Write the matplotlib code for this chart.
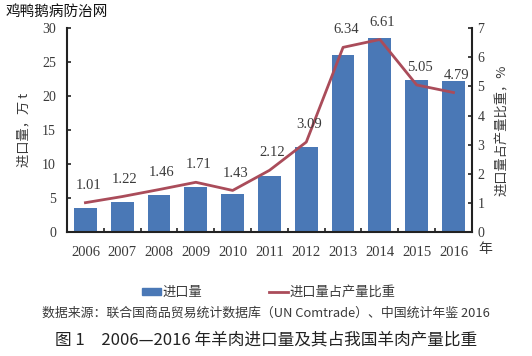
import matplotlib
matplotlib.use("Agg")
import matplotlib.pyplot as plt
from matplotlib.patches import Patch
from matplotlib.lines import Line2D
import numpy as np

years = ["2006", "2007", "2008", "2009", "2010", "2011", "2012", "2013", "2014", "2015", "2016"]
imports = [3.5, 4.45, 5.4, 6.6, 5.6, 8.2, 12.45, 26.1, 28.6, 22.4, 22.2]
share = [1.01, 1.22, 1.46, 1.71, 1.43, 2.12, 3.09, 6.34, 6.61, 5.05, 4.79]
share_labels = ["1.01", "1.22", "1.46", "1.71", "1.43", "2.12", "3.09", "6.34", "6.61", "5.05", "4.79"]

plt.rcParams['font.family'] = ['Noto Sans CJK SC', 'DejaVu Sans']
BAR = '#4a78b6'
LINE = '#aa4c5a'
TXT = '#3a3a3a'
SERIF = ['Liberation Serif', 'DejaVu Serif']

fig = plt.figure(figsize=(5.32, 3.56), dpi=100)
ax = fig.add_axes([0.126, 0.348, 0.761, 0.573])
x = np.arange(len(years))
ax.bar(x, imports, width=0.62, color=BAR, zorder=2)
ax.set_xlim(-0.5, len(years) - 0.5)
ax.set_ylim(0, 30)
ax.set_yticks(range(0, 31, 5))
ax.set_xticks(x)
ax.set_xticklabels(years, family=SERIF, fontsize=10.5, color=TXT)
ax.set_xticks(np.arange(-0.5, len(years), 1), minor=True)
ax.tick_params(axis='x', which='major', length=0, pad=10)
ax.tick_params(axis='x', which='minor', direction='in', length=3, width=1.2, color='#222222')
ax.tick_params(axis='y', direction='in', length=3, width=1.2, color='#222222', labelcolor=TXT, labelsize=10, pad=8)
for lab in ax.get_yticklabels():
    lab.set_family(SERIF)
for s in ['top', 'right']:
    ax.spines[s].set_visible(False)
for s in ['left', 'bottom']:
    ax.spines[s].set_linewidth(1.5)
    ax.spines[s].set_color('#222222')
ax.set_ylabel('进口量，万 t', fontsize=9.5, color=TXT, labelpad=8)

ax2 = ax.twinx()
ax2.plot(x, share, color=LINE, lw=2, zorder=3)
ax2.set_ylim(0, 7)
ax2.set_yticks(range(0, 8))
ax2.tick_params(axis='y', direction='in', length=3, width=1.2, color='#222222', labelcolor=TXT, labelsize=10, pad=4)
for lab in ax2.get_yticklabels():
    lab.set_family(SERIF)
for s in ['top', 'left', 'bottom']:
    ax2.spines[s].set_visible(False)
ax2.spines['right'].set_linewidth(1.5)
ax2.spines['right'].set_color('#222222')
ax2.set_ylabel('进口量占产量比重，%', fontsize=9.5, color=TXT, rotation=90, labelpad=8)

for xi, v, t in zip(x, share, share_labels):
    ax2.annotate(t, (xi, v), xytext=(2, 12.5), textcoords='offset points', ha='center', va='center',
                 family=SERIF, fontsize=10.5, color=TXT)

ax.text(1.015, -0.085, '年', transform=ax.transAxes, fontsize=10, color=TXT, ha='left', va='center')

fig.text(0.01, 0.966, '鸡鸭鹅病防治网', fontsize=10.5, color='#111111', ha='left', va='center')

handles = [Patch(color=BAR), Line2D([0], [0], color=LINE, lw=2)]
fig.legend(handles, ['进口量', '进口量占产量比重'], loc='center', bbox_to_anchor=(0.505, 0.178), ncol=2,
           frameon=False, fontsize=9.5, handlelength=1.5, handleheight=0.5, handletextpad=0.1,
           columnspacing=5, labelcolor=TXT)

fig.text(0.5, 0.12, '数据来源：联合国商品贸易统计数据库（UN Comtrade）、中国统计年鉴 2016',
         fontsize=9.3, color=TXT, ha='center', va='center')
fig.text(0.5, 0.045, '图 1　2006—2016 年羊肉进口量及其占我国羊肉产量比重',
         fontsize=12, color='#222222', ha='center', va='center')

fig.savefig('out.png', dpi=100)
